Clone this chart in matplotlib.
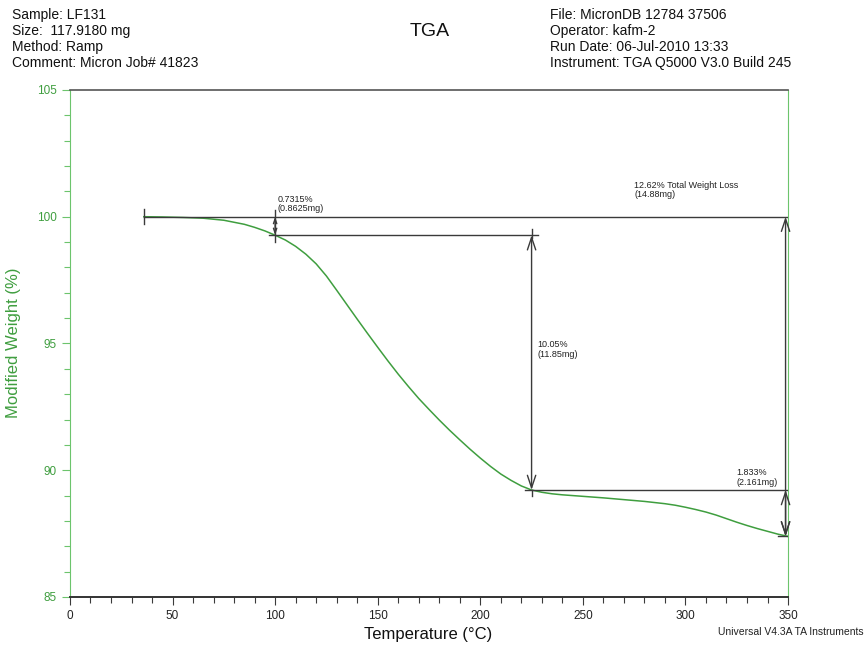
import matplotlib
matplotlib.use("Agg")
import matplotlib.pyplot as plt
from matplotlib.ticker import MultipleLocator

# TGA weight curve: temperature (°C) vs modified weight (%)
temperature = [36, 45, 55, 65, 75, 85, 90, 95, 100, 105, 110, 115, 120, 125,
               130, 135, 140, 145, 150, 155, 160, 165, 170, 175, 180, 185, 190,
               195, 200, 205, 210, 215, 220, 225, 230, 235, 240, 250, 260, 270,
               280, 290, 295, 300, 305, 310, 315, 320, 325, 330, 335, 340, 345,
               350]
weight = [100.0, 99.99, 99.97, 99.94, 99.86, 99.7, 99.58, 99.44, 99.27, 99.08,
          98.83, 98.52, 98.14, 97.66, 97.1, 96.53, 95.96, 95.4, 94.85, 94.31,
          93.79, 93.3, 92.83, 92.4, 91.98, 91.58, 91.2, 90.83, 90.48, 90.15,
          89.85, 89.6, 89.38, 89.22, 89.13, 89.07, 89.03, 88.97, 88.91, 88.84,
          88.77, 88.68, 88.62, 88.54, 88.45, 88.35, 88.23, 88.09, 87.95, 87.82,
          87.7, 87.59, 87.48, 87.39]

# Step analysis markers
start_T = 36
step1_T = 100
step2_T = 225
end_T = 350
level_start = 100.0
level_step1 = 99.27
level_step2 = 89.22
level_end = 87.39

header_left = ["Sample: LF131", "Size:  117.9180 mg", "Method: Ramp",
               "Comment: Micron Job# 41823"]
header_right = ["File: MicronDB 12784 37506", "Operator: kafm-2",
                "Run Date: 06-Jul-2010 13:33",
                "Instrument: TGA Q5000 V3.0 Build 245"]

plt.rcParams['font.family'] = ['Liberation Sans', 'DejaVu Sans']

GREEN = '#3f9e3f'
SPINE_GREEN = '#6cc46c'
INK = '#3a3a3a'

fig = plt.figure(figsize=(8.67, 6.47), dpi=100)
ax = fig.add_axes([0.0807, 0.0773, 0.8282, 0.7837])

ax.plot(temperature, weight, color=GREEN, lw=1.1, zorder=3)

ax.set_xlim(0, 350)
ax.set_ylim(85, 105)
ax.xaxis.set_major_locator(MultipleLocator(50))
ax.xaxis.set_minor_locator(MultipleLocator(10))
ax.yaxis.set_major_locator(MultipleLocator(5))
ax.yaxis.set_minor_locator(MultipleLocator(1))
ax.tick_params(axis='x', which='major', length=6, width=0.8, colors=INK,
               labelsize=8.5, labelcolor='#222222')
ax.tick_params(axis='x', which='minor', length=4, width=0.8, colors=INK)
ax.tick_params(axis='y', which='major', length=6, width=0.8, colors=SPINE_GREEN,
               labelsize=8.5, labelcolor=GREEN)
ax.tick_params(axis='y', which='minor', length=4, width=0.8, colors=SPINE_GREEN)

ax.spines['left'].set_color(SPINE_GREEN)
ax.spines['right'].set_color(SPINE_GREEN)
ax.spines['top'].set_color('#555555')
ax.spines['bottom'].set_color('#333333')
ax.spines['bottom'].set_linewidth(1.4)
ax.spines['top'].set_linewidth(1.2)

# Axis titles placed in figure coordinates
fig.text(14 / 867, 1 - 343 / 647, "Modified Weight (%)", color=GREEN,
         fontsize=12, rotation=90, va='center', ha='center')
fig.text(428 / 867, 1 - 635 / 647, "Temperature (°C)", fontsize=12,
         va='center', ha='center', color='#111111')

line_kw = dict(color=INK, lw=1.0, zorder=4)
cap = 0.3

# Horizontal reference lines
ax.plot([start_T, end_T + 2], [level_start, level_start], **line_kw)
ax.plot([start_T, start_T], [level_start - cap, level_start + cap], **line_kw)
ax.plot([step1_T - 3, step2_T + 3], [level_step1, level_step1], **line_kw)
ax.plot([step1_T, step1_T], [level_step1 - 0.25, level_start + 0.25], **line_kw)
ax.plot([step2_T, step2_T], [level_step1 - 0.1, level_step1 + 0.25], **line_kw)
ax.plot([step2_T - 3, end_T + 2], [level_step2, level_step2], **line_kw)
ax.plot([step2_T, step2_T], [level_step2 - 0.25, level_step2], **line_kw)
ax.plot([end_T - 5, end_T + 2], [level_end, level_end], **line_kw)

arrow_x_right = end_T - 1.2


def double_arrow(x, y0, y1, hl=0.9, hw=0.3):
    ax.annotate('', xy=(x, y0), xytext=(x, y1),
                arrowprops=dict(arrowstyle=f'<->,head_length={hl},head_width={hw}',
                                color=INK, lw=1.0, shrinkA=0, shrinkB=0),
                zorder=4)


double_arrow(step1_T, level_start, level_step1, hl=0.35, hw=0.12)
double_arrow(step2_T, level_step1, level_step2)
double_arrow(arrow_x_right, level_start, level_end)
double_arrow(arrow_x_right, level_step2, level_end)

ann_kw = dict(fontsize=6.5, color='#222222', va='bottom', ha='left',
              linespacing=1.05)
ax.text(101, 100.15, "0.7315%\n(0.8625mg)", **ann_kw)
ax.text(228, 94.4, "10.05%\n(11.85mg)", **ann_kw)
ax.text(275, 100.7, "12.62% Total Weight Loss\n(14.88mg)", **ann_kw)
ax.text(325, 89.35, "1.833%\n(2.161mg)", **ann_kw)

# Header blocks
for i, s in enumerate(header_left):
    fig.text(12 / 867, 1 - (15 + 16 * i) / 647, s, fontsize=10, va='center',
             ha='left', color='#111111')
for i, s in enumerate(header_right):
    fig.text(550 / 867, 1 - (15 + 16 * i) / 647, s, fontsize=10, va='center',
             ha='left', color='#111111')
fig.text(430 / 867, 1 - 31 / 647, "TGA", fontsize=14, va='center',
         ha='center', color='#111111')
fig.text(864 / 867, 1 - 632 / 647, "Universal V4.3A TA Instruments",
         fontsize=7.5, va='center', ha='right', color='#222222')

fig.savefig("out.png", dpi=100)
